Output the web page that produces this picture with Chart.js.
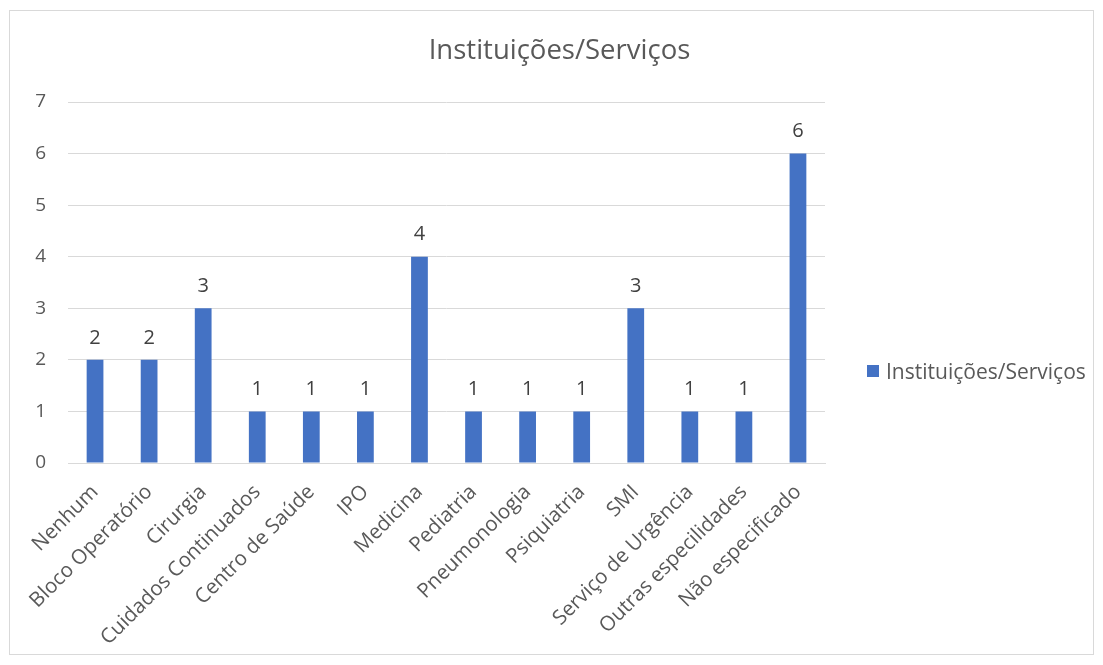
<!DOCTYPE html>
<html>
<head>
<meta charset="utf-8">
<script src="https://cdn.jsdelivr.net/npm/chart.js@4"></script>
<style>
    body { margin: 0; background: #fff; font-family: 'Open Sans', sans-serif; }
    #wrap { position: relative; width: 1103px; height: 665px; }
    #frame { position: absolute; left: 9px; top: 10px; width: 1085px; height: 645px; border: 1px solid #d9d9d9; box-sizing: border-box; }
    canvas { position: absolute; left: 0; top: 0; }
    #title { position: absolute; left: 17px; width: 1085px; top: 30px; text-align: center; font-size: 27.5px; color: #595959; }
    #legend { position: absolute; left: 867px; top: 357px; font-size: 21px; color: #595959; display: flex; align-items: center; }
    #legend .box { width: 12px; height: 12px; margin-right: 7px; }
</style>
</head>
<body>
<div id="wrap">
    <div id="frame"></div>
    <canvas id="chart" width="1103" height="665"></canvas>
    <div id="title"></div>
    <div id="legend"></div>
</div>
<script>
// Instituições/Serviços chart data
const chartTitle = 'Instituições/Serviços';
const seriesName = 'Instituições/Serviços';
const categories = ['Nenhum', 'Bloco Operatório', 'Cirurgia', 'Cuidados Continuados', 'Centro de Saúde', 'IPO',
    'Medicina', 'Pediatria', 'Pneumonologia', 'Psiquiatria', 'SMI', 'Serviço de Urgência',
    'Outras especilidades', 'Não especificado'];
const counts = [2, 2, 3, 1, 1, 1, 4, 1, 1, 1, 3, 1, 1, 6];
const yTicks = [0, 1, 2, 3, 4, 5, 6, 7];

const barColor = '#4472c4';
const textColor = '#595959';
const fontName = 'Open Sans';

// draw the value above each bar
const valueLabels = {
    id: 'valueLabels',
    afterDatasetsDraw(chart) {
        const ctx = chart.ctx;
        const meta = chart.getDatasetMeta(0);
        ctx.save();
        ctx.font = `20px ${fontName}`;
        ctx.fillStyle = '#404040';
        ctx.textAlign = 'center';
        ctx.textBaseline = 'bottom';
        meta.data.forEach((bar, i) => {
            ctx.fillText(chart.data.datasets[0].data[i], bar.x, bar.y - 12);
        });
        ctx.restore();
    }
};

const ctx = document.getElementById('chart').getContext('2d');
const chart = new Chart(ctx, {
    type: 'bar',
    data: {
        labels: categories,
        datasets: [{
            label: seriesName,
            data: counts,
            backgroundColor: barColor,
            categoryPercentage: 1,
            barPercentage: 0.31
        }]
    },
    options: {
        responsive: false,
        animation: false,
        layout: { padding: { left: 20, right: 278, top: 102, bottom: 22 } },
        plugins: {
            legend: { display: false },
            tooltip: { enabled: false }
        },
        scales: {
            y: {
                min: 0,
                max: 7,
                afterBuildTicks: axis => { axis.ticks = yTicks.map(v => ({ value: v })); },
                afterFit: axis => { axis.width = 48; },
                border: { display: false },
                grid: { color: '#d9d9d9', drawTicks: false },
                ticks: { color: textColor, padding: 22, font: { family: fontName, size: 19 } }
            },
            x: {
                afterFit: axis => { axis.height = 180; },
                border: { color: '#d9d9d9' },
                grid: { display: false },
                ticks: {
                    color: textColor,
                    autoSkip: false,
                    minRotation: 45,
                    maxRotation: 45,
                    padding: 9,
                    font: { family: fontName, size: 20.5 }
                }
            }
        }
    },
    plugins: [valueLabels]
});

// title and legend as plain html so they sit where the original ones are
document.getElementById('title').textContent = chartTitle;
document.getElementById('legend').innerHTML =
    `<span class="box" style="background:${barColor}"></span>${seriesName}`;
</script>
</body>
</html>
